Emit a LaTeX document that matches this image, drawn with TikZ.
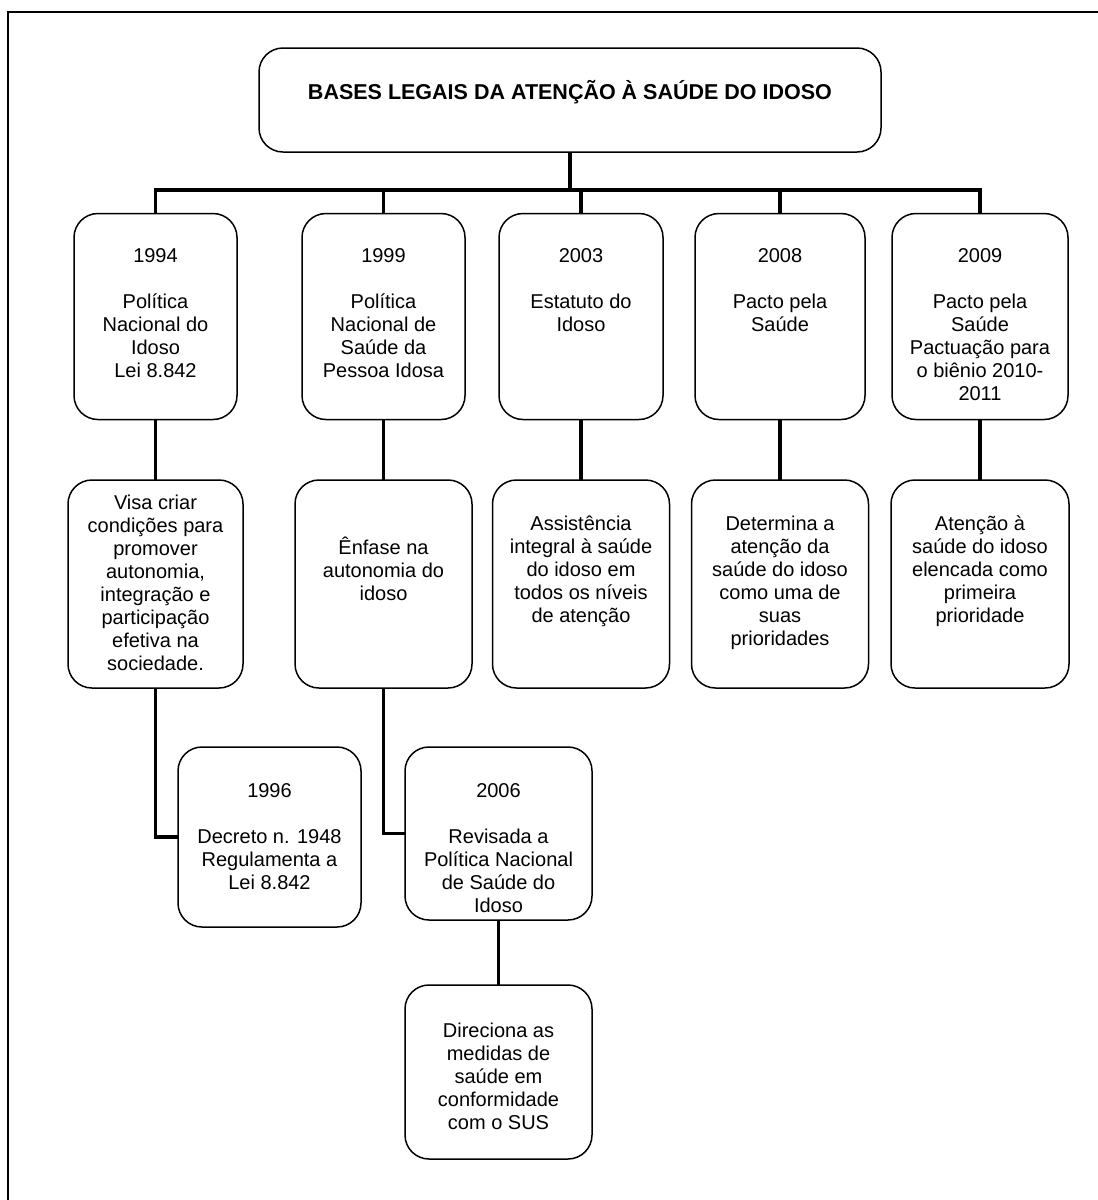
\documentclass[tikz,border=0pt]{standalone}
\usepackage{fontspec}
\setmainfont{Liberation Sans}
\newcommand\bxt[4]{\parbox[c][#2pt][t]{#1pt}{\centering\rule{0pt}{#3pt}#4\par}}
\begin{document}
\begin{tikzpicture}[x=1pt,y=-1pt,
  bx/.style={draw=black, line width=1.5pt, rounded corners=24pt, inner sep=0pt, outer sep=0pt, font=\fontsize{20}{23}\selectfont},
  conn/.style={line width=3.5pt}]
\useasboundingbox (0,0) rectangle (1098,1200);
\draw[line width=2pt] (8,1200) -- (8,11.5) -- (1098,11.5);

\node[bx] (title) at (570,100) {\bxt{622}{104}{51}{\fontsize{21.5}{24}\selectfont\textbf{BASES LEGAIS DA ATENÇÃO À SAÚDE DO IDOSO}}};

\node[bx] (b1994) at (155.5,316.5) {\bxt{163}{206}{49}{1994\\[23pt]Política\\Nacional do\\Idoso\\Lei 8.842}};
\node[bx] (b1999) at (383.5,316.5) {\bxt{163}{206}{49}{1999\\[23pt]Política\\Nacional de\\Saúde da\\Pessoa Idosa}};
\node[bx] (b2003) at (581,316.5) {\bxt{164}{206}{49}{2003\\[23pt]Estatuto do\\Idoso}};
\node[bx] (b2008) at (780,316.5) {\bxt{170}{206}{49}{2008\\[23pt]Pacto pela\\Saúde}};
\node[bx] (b2009) at (980,316.5) {\bxt{176}{206}{49}{2009\\[23pt]Pacto pela\\Saúde\\Pactuação para\\o biênio 2010-\\2011}};

\node[bx] (visa) at (155.5,584) {\bxt{175}{208}{29}{Visa criar\\condições para\\promover\\autonomia,\\integração e\\participação\\efetiva na\\sociedade.}};
\node[bx] (enfase) at (383.5,584) {\bxt{177}{208}{74}{Ênfase na\\autonomia do\\idoso}};
\node[bx] (assist) at (581,584) {\bxt{177}{208}{50}{Assistência\\integral à saúde\\do idoso em\\todos os níveis\\de atenção}};
\node[bx] (determ) at (780,584) {\bxt{177}{208}{50}{Determina a\\atenção da\\saúde do idoso\\como uma de\\suas\\prioridades}};
\node[bx] (atenc) at (980,584) {\bxt{178}{208}{50}{Atenção à\\saúde do idoso\\elencada como\\primeira\\prioridade}};

\node[bx] (b1996) at (269.5,837) {\bxt{183}{180}{50}{1996\\[23pt]Decreto n. 1948\\Regulamenta a\\Lei 8.842}};
\node[bx] (b2006) at (498.5,833.5) {\bxt{187}{173}{50}{2006\\[23pt]Revisada a\\Política Nacional\\de Saúde do\\Idoso}};
\node[bx] (direc) at (498.5,1072) {\bxt{187}{174}{52}{Direciona as\\medidas de\\saúde em\\conformidade\\com o SUS}};

\coordinate (bus) at (570,190);
\draw[conn] (title.south) -- (bus);
\draw[conn] (bus) -| (b1994.north);
\draw[conn] (bus) -| (b1999.north);
\draw[conn] (bus) -| (b2003.north);
\draw[conn] (bus) -| (b2008.north);
\draw[conn] (bus) -| (b2009.north);

\draw[conn] (b1994.south) -- (visa.north);
\draw[conn] (b1999.south) -- (enfase.north);
\draw[conn] (b2003.south) -- (assist.north);
\draw[conn] (b2008.south) -- (determ.north);
\draw[conn] (b2009.south) -- (atenc.north);

\draw[conn] (visa.south) |- (b1996.west);
\draw[conn] (enfase.south) |- (b2006.west);
\draw[conn] (b2006.south) -- (direc.north);
\end{tikzpicture}
\end{document}
